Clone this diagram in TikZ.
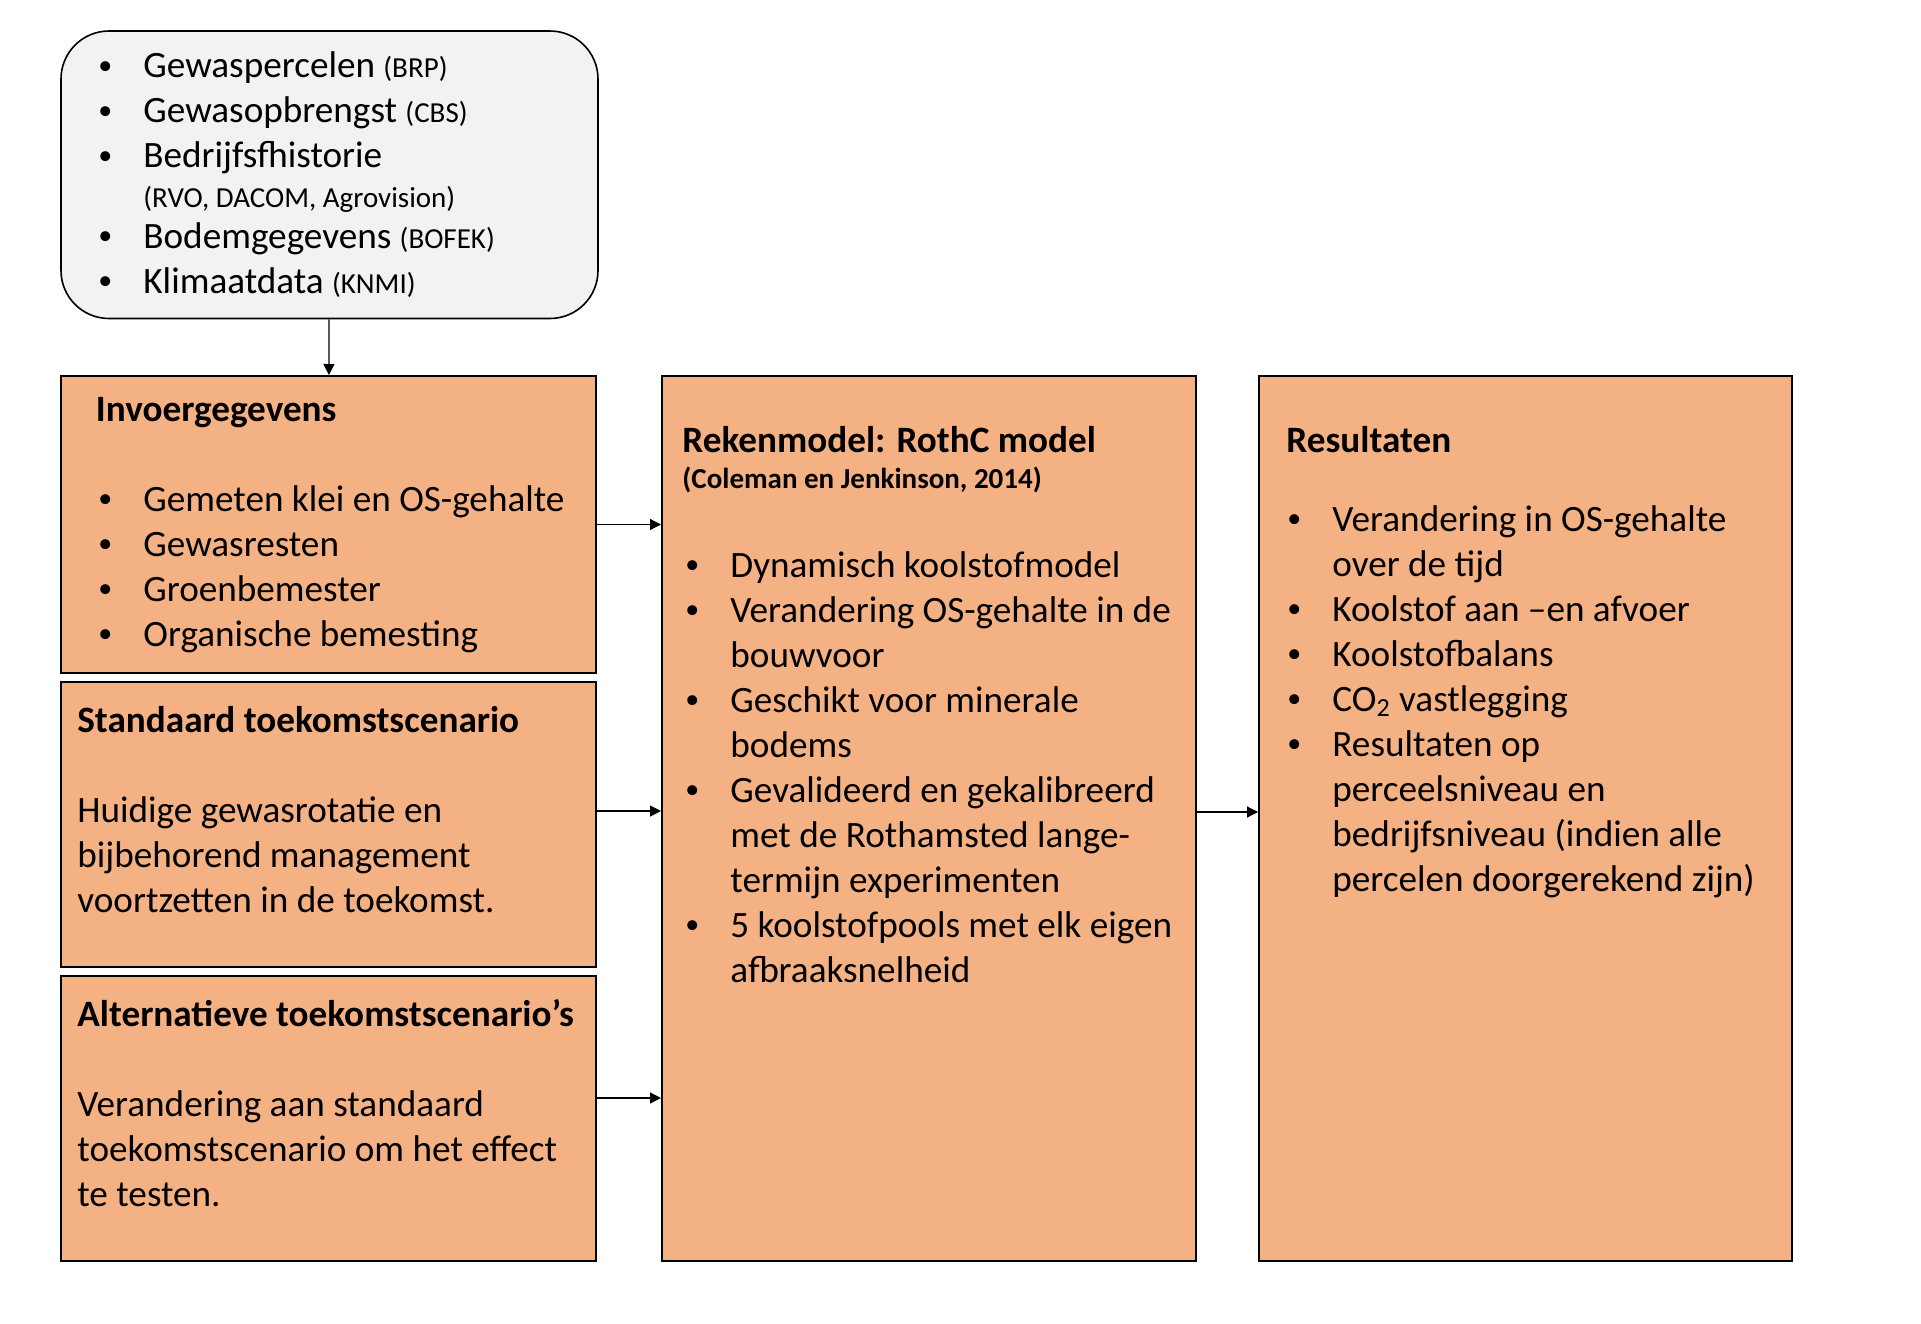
\documentclass[tikz,border=0pt]{standalone}
\usepackage{fontspec}
\setmainfont{Carlito}
\usepackage{tikz}
\usetikzlibrary{arrows.meta}
\definecolor{vakOranje}{RGB}{244,177,131}
\definecolor{vakGrijs}{RGB}{242,242,242}
\tikzset{
    >={Triangle[length=5.5pt,width=5.5pt]},
    vak/.style={rectangle,draw=black,line width=1pt,fill=vakOranje,minimum width=267.5pt,minimum height=#1,inner sep=0pt},
    pijl/.style={line width=0.6pt},
    tekst/.style={anchor=base west,align=left,inner sep=0pt,font=\fontsize{18.6}{22.5}\selectfont},
    kop/.style={tekst,font=\bfseries\fontsize{18.6}{22.5}\selectfont}
}
\newcommand{\bolletje}[1]{\makebox[20pt][l]{\hspace{-2.5pt}\raisebox{1.6pt}{\fontsize{14}{14}\selectfont\textbullet}}#1}
\newcommand{\verder}{\hspace*{20pt}}
\newcommand{\klein}[1]{{\fontsize{14.5}{16}\selectfont #1}}

\begin{document}
\begin{tikzpicture}[x=0.5pt,y=-0.5pt]
  \useasboundingbox (0,0) rectangle (1921,1323);

  \node[vak=143.75pt,fill=vakGrijs,rounded corners=24pt,line width=0.8pt,minimum width=268.5pt] (bron) at (329.5,174.75) {};
  \node[vak=148.5pt] (invoer) at (328.5,524.5) {} edge[<-,pijl] (bron);
  \node[vak=142.5pt] (standaard) at (328.5,824.5) {};
  \node[vak=142.5pt] (alternatief) at (328.5,1118.5) {};
  \node[vak=442.5pt,minimum width=267pt] (rekenmodel) at (929,818.5) {};
  \node[vak=442.5pt,minimum width=266.5pt] (resultaten) at (1525.5,818.5) {};

  \coordinate (uitInvoer) at (invoer.east);
  \coordinate (uitStandaard) at ([yshift=6.75pt]standaard.east);
  \coordinate (uitAlternatief) at ([yshift=10.25pt]alternatief.east);
  \coordinate (uitReken) at ([yshift=3.25pt]rekenmodel.east);
  \draw[->,pijl] (uitInvoer) -- (uitInvoer -| rekenmodel.west);
  \draw[->,pijl] (uitStandaard) -- (uitStandaard -| rekenmodel.west);
  \draw[->,pijl] (uitAlternatief) -- (uitAlternatief -| rekenmodel.west);
  \draw[->,pijl] (uitReken) -- (uitReken -| resultaten.west);

  % bronnen (anker op de laatste regel)
  \node[tekst] (bronlijst) at (103,293) {\bolletje{Gewaspercelen \klein{(BRP)}}\\
    \bolletje{Gewasopbrengst \klein{(CBS)}}\\
    \bolletje{Bedrijfsfhistorie}\\[-2.3pt]
    \verder\klein{(RVO, DACOM, Agrovision)}\\[-2.3pt]
    \bolletje{Bodemgegevens \klein{(BOFEK)}}\\
    \bolletje{Klimaatdata \klein{(KNMI)}}};

  % linker kolom
  \node[kop] (invoerkop) at (95.5,421) {Invoergegevens};
  \node[tekst] (invoerlijst) at (103,646) {\bolletje{Gemeten klei en OS-gehalte}\\
    \bolletje{Gewasresten}\\
    \bolletje{Groenbemester}\\
    \bolletje{Organische bemesting}};
  \node[kop] (standaardkop) at (77,732) {Standaard toekomstscenario};
  \node[tekst] (standaardtekst) at (77,912) {Huidige gewasrotatie en\\
    bijbehorend management\\
    voortzetten in de toekomst.};
  \node[kop] (alternatiefkop) at (77,1026) {Alternatieve toekomstscenario’s};
  \node[tekst] (alternatieftekst) at (77,1206) {Verandering aan standaard\\
    toekomstscenario om het effect\\
    te testen.};

  % rekenmodel
  \node[kop] (rekenkop) at (682,452) {Rekenmodel: RothC model};
  \node[kop,font=\bfseries\fontsize{14.5}{16}\selectfont] (rekenbron) at (682,488) {(Coleman en Jenkinson, 2014)};
  \node[tekst] (rekenlijst) at (690,982) {\bolletje{Dynamisch koolstofmodel}\\
    \bolletje{Verandering OS-gehalte in de}\\
    \verder bouwvoor\\
    \bolletje{Geschikt voor minerale}\\
    \verder bodems\\
    \bolletje{Gevalideerd en gekalibreerd}\\
    \verder met de Rothamsted lange-\\
    \verder termijn experimenten\\
    \bolletje{5 koolstofpools met elk eigen}\\
    \verder afbraaksnelheid};

  % resultaten
  \node[kop] (resultatenkop) at (1286,452) {Resultaten};
  \node[tekst] (resultatenlijst) at (1292,891) {\bolletje{Verandering in OS-gehalte}\\
    \verder over de tijd\\
    \bolletje{Koolstof aan –en afvoer}\\
    \bolletje{Koolstofbalans}\\
    \bolletje{CO\textsubscript{2} vastlegging}\\
    \bolletje{Resultaten op}\\
    \verder perceelsniveau en\\
    \verder bedrijfsniveau (indien alle\\
    \verder percelen doorgerekend zijn)};
\end{tikzpicture}
\end{document}
